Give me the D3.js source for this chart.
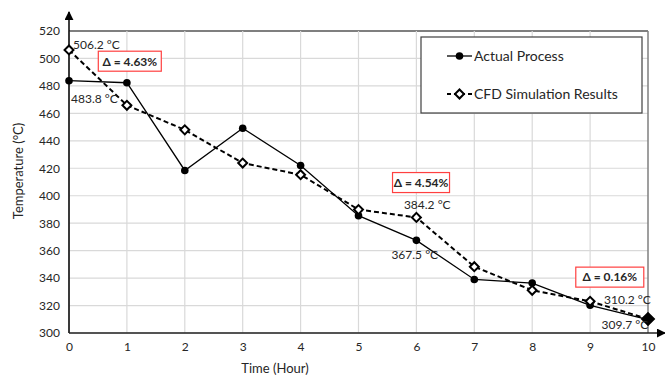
<!DOCTYPE html>
<html>
<head>
<meta charset="utf-8">
<script src="https://cdn.jsdelivr.net/npm/d3@7"></script>
<style>
  body { margin: 0; background: #fff; }
  text { font-family: Lato, "Liberation Sans", sans-serif; fill: #262626; }
</style>
</head>
<body>
<svg id="chart" width="665" height="376"></svg>
<script>
// hours on the x axis
const hours = [0, 1, 2, 3, 4, 5, 6, 7, 8, 9, 10];
// measured furnace temperature
const actualProcess = [483.8, 482.3, 418.4, 449.2, 422.0, 385.5, 367.5, 339.0, 336.4, 320.2, 309.7];
// CFD predicted temperature
const cfdResults = [506.2, 465.9, 448.0, 423.8, 415.3, 389.9, 384.2, 348.3, 331.1, 323.1, 310.2];
const yTicks = [300, 320, 340, 360, 380, 400, 420, 440, 460, 480, 500, 520];
const seriesNames = ['Actual Process', 'CFD Simulation Results'];
// value labels
const valueLabels = [
  {hour: 0, text: '506.2 °C', series: 'cfd'},
  {hour: 0, text: '483.8 °C', series: 'actual'},
  {hour: 6, text: '384.2 °C', series: 'cfd'},
  {hour: 6, text: '367.5 °C', series: 'actual'},
  {hour: 10, text: '310.2 °C', series: 'cfd'},
  {hour: 10, text: '309.7 °C', series: 'actual'}
];
// deviation boxes, placed in data units
const deltaLabels = [
  {hour: 1.05, value: 498, text: 'Δ = 4.63%', w: 63},
  {hour: 6.08, value: 409.6, text: 'Δ = 4.54%', w: 57},
  {hour: 9.34, value: 340.7, text: 'Δ = 0.16%', w: 68}
];

const svg = d3.select('#chart'),
  margin = {top: 31, right: 17, bottom: 43, left: 69},
  width = +svg.attr('width') - margin.left - margin.right,
  height = +svg.attr('height') - margin.top - margin.bottom;

const x = d3.scaleLinear().domain([0, 10]).range([0, width]);
const y = d3.scaleLinear().domain([300, 520]).range([height, 0]);

const g = svg.append('g')
  .attr('transform', 'translate(' + margin.left + ',' + margin.top + ')');

// grid
g.append('g')
  .selectAll('line')
  .data(yTicks)
  .enter().append('line')
  .attr('x1', 0).attr('x2', width)
  .attr('y1', d => y(d)).attr('y2', d => y(d))
  .attr('stroke', d => d === 520 ? '#7f7f7f' : '#d9d9d9')
  .attr('stroke-width', d => d === 520 ? 2 : 1.2);

g.append('g')
  .selectAll('line')
  .data(hours)
  .enter().append('line')
  .attr('x1', d => x(d)).attr('x2', d => x(d))
  .attr('y1', 0).attr('y2', height)
  .attr('stroke', d => d === 10 ? '#7f7f7f' : '#d9d9d9')
  .attr('stroke-width', d => d === 10 ? 1.5 : 1.2);

// axes
const yAxis = g.append('g')
  .call(d3.axisLeft(y).tickValues(yTicks).tickSize(0).tickPadding(9));
yAxis.select('.domain').remove();
yAxis.selectAll('text').style('font-size', '12px').attr('fill', '#404040');

const xAxis = g.append('g')
  .attr('transform', 'translate(0,' + height + ')')
  .call(d3.axisBottom(x).tickValues(hours).tickFormat(d3.format('d')).tickSize(0).tickPadding(9));
xAxis.select('.domain').remove();
xAxis.selectAll('text').style('font-size', '12px').attr('fill', '#404040');

svg.append('defs').append('marker')
  .attr('id', 'arrow')
  .attr('viewBox', '0 0 10 10')
  .attr('refX', 9).attr('refY', 5)
  .attr('markerWidth', 6).attr('markerHeight', 6)
  .attr('orient', 'auto')
  .append('path')
  .attr('d', 'M0,0L10,5L0,10z')
  .attr('fill', '#000');

g.append('line')
  .attr('x1', 0).attr('x2', 0)
  .attr('y1', height).attr('y2', -19)
  .attr('stroke', '#000').attr('stroke-width', 1.5)
  .attr('marker-end', 'url(#arrow)');
g.append('line')
  .attr('x1', 0).attr('x2', width + 17)
  .attr('y1', height).attr('y2', height)
  .attr('stroke', '#222').attr('stroke-width', 1.5)
  .attr('marker-end', 'url(#arrow)');

// axis titles
svg.append('text')
  .attr('x', 275).attr('y', 373)
  .attr('text-anchor', 'middle')
  .style('font-size', '13px')
  .text('Time (Hour)');
svg.append('text')
  .attr('transform', 'translate(23,171) rotate(-90)')
  .attr('text-anchor', 'middle')
  .style('font-size', '13px')
  .text('Temperature (°C)');

// series
const actualData = hours.map((h, i) => ({h: h, v: actualProcess[i]}));
const cfdData = hours.map((h, i) => ({h: h, v: cfdResults[i]}));
const line = d3.line().x(d => x(d.h)).y(d => y(d.v));

g.append('path')
  .datum(cfdData)
  .attr('d', line)
  .attr('fill', 'none')
  .attr('stroke', '#000')
  .attr('stroke-width', 2)
  .attr('stroke-dasharray', '5,3');

g.append('path')
  .datum(actualData)
  .attr('d', line)
  .attr('fill', 'none')
  .attr('stroke', '#000')
  .attr('stroke-width', 1.3);

g.selectAll('.dot')
  .data(actualData)
  .enter().append('circle')
  .attr('class', 'dot')
  .attr('cx', d => x(d.h))
  .attr('cy', d => y(d.v))
  .attr('r', 3.8)
  .attr('fill', '#000');

const diamond = d3.symbol().type(d3.symbolSquare).size(40);
g.selectAll('.diamond')
  .data(cfdData)
  .enter().append('path')
  .attr('class', 'diamond')
  .attr('d', (d, i) => i === cfdData.length - 1 ? d3.symbol().type(d3.symbolSquare).size(70)() : diamond())
  .attr('transform', d => 'translate(' + x(d.h) + ',' + y(d.v) + ') rotate(45)')
  .attr('fill', (d, i) => i === cfdData.length - 1 ? '#000' : '#fff')
  .attr('stroke', '#000')
  .attr('stroke-width', 2);

// value labels, offset from their point
const labelOffset = {
  0: {cfd: [4, -0.5], actual: [2, 22.5]},
  6: {cfd: [-12.5, -8.5], actual: [-25, 18.5]},
  10: {cfd: [-44, -15], actual: [-46.5, 9.5]}
};
g.selectAll('.vlabel')
  .data(valueLabels)
  .enter().append('text')
  .attr('class', 'vlabel')
  .attr('x', d => x(d.hour) + labelOffset[d.hour][d.series][0])
  .attr('y', d => {
    const v = d.series === 'cfd' ? cfdResults[d.hour] : actualProcess[d.hour];
    return y(v) + labelOffset[d.hour][d.series][1];
  })
  .style('font-size', '12px')
  .attr('fill', '#333')
  .text(d => d.text);

// delta boxes
const dg = g.selectAll('.delta')
  .data(deltaLabels)
  .enter().append('g')
  .attr('class', 'delta')
  .attr('transform', d => 'translate(' + x(d.hour) + ',' + y(d.value) + ')');
dg.append('rect')
  .attr('x', d => -d.w / 2).attr('y', -10)
  .attr('width', d => d.w).attr('height', 20)
  .attr('fill', '#fff')
  .attr('stroke', '#ff4040')
  .attr('stroke-width', 1.2);
dg.append('text')
  .attr('text-anchor', 'middle')
  .attr('dy', '0.36em')
  .style('font-size', '12px')
  .style('font-weight', 'bold')
  .text(d => d.text);

// legend
const legend = svg.append('g').attr('transform', 'translate(421,37)');
legend.append('rect')
  .attr('width', 221).attr('height', 76)
  .attr('fill', '#fff')
  .attr('stroke', '#404040')
  .attr('stroke-width', 1.2);
const items = legend.selectAll('.item')
  .data(seriesNames)
  .enter().append('g')
  .attr('class', 'item')
  .attr('transform', (d, i) => 'translate(26,' + (19 + i * 38) + ')');
items.append('line')
  .attr('x1', 0).attr('x2', 25)
  .attr('stroke', '#000')
  .attr('stroke-width', (d, i) => i === 0 ? 1.3 : 2)
  .attr('stroke-dasharray', (d, i) => i === 0 ? null : '4,3');
items.filter((d, i) => i === 0).append('circle')
  .attr('cx', 12.5).attr('r', 3.8).attr('fill', '#000');
items.filter((d, i) => i === 1).append('path')
  .attr('d', diamond())
  .attr('transform', 'translate(12.5,0) rotate(45)')
  .attr('fill', '#fff').attr('stroke', '#000').attr('stroke-width', 2);
items.append('text')
  .attr('x', 27)
  .attr('dy', '0.35em')
  .style('font-size', '14px')
  .text(d => d);
</script>
</body>
</html>
